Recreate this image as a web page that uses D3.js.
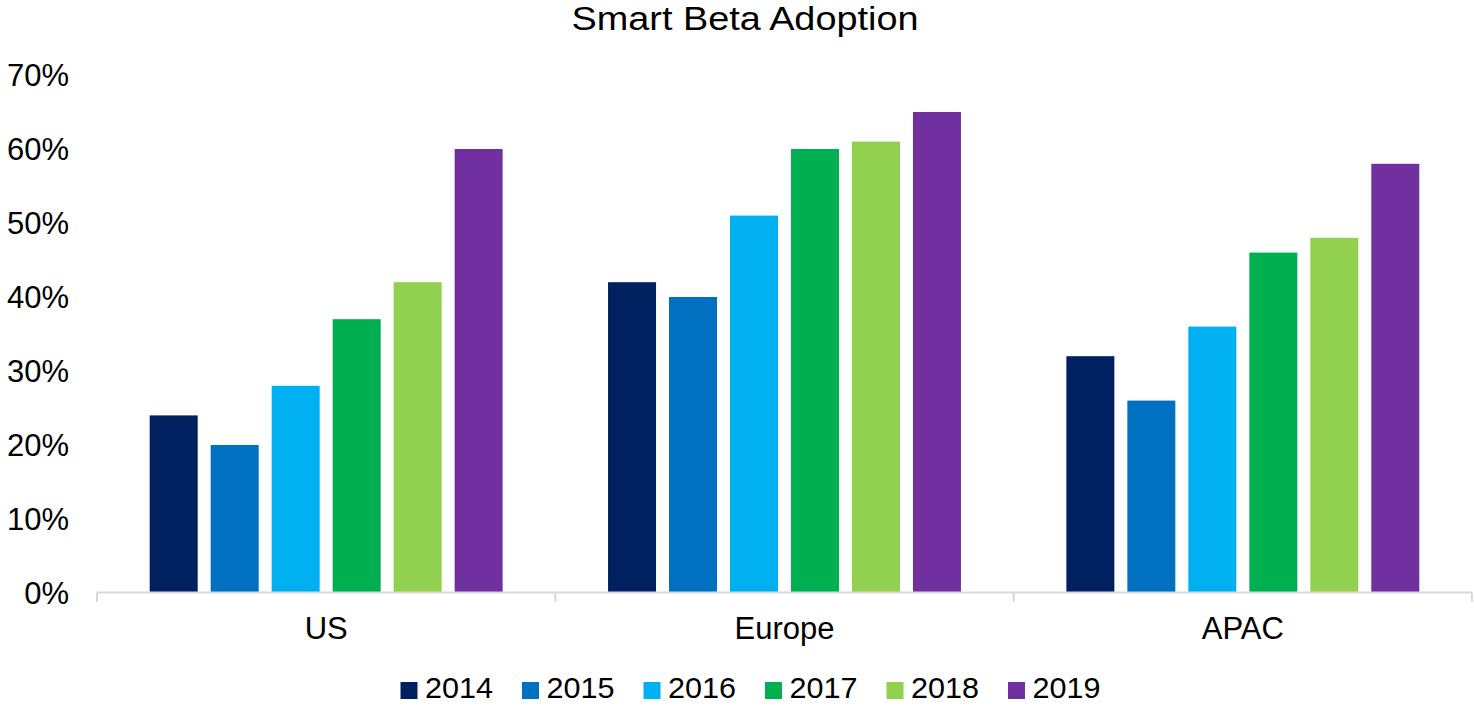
<!DOCTYPE html>
<html>
<head>
<meta charset="utf-8">
<script src="https://cdn.jsdelivr.net/npm/d3@7.9.0/dist/d3.min.js"></script>
<style>
  body { margin: 0; background: #fff; }
  text { font-family: "Liberation Sans", Arial, sans-serif; fill: #000; }
</style>
</head>
<body>
<svg id="chart" width="1474" height="706"></svg>
<script>
const regions = ["US", "Europe", "APAC"];
const years = ["2014", "2015", "2016", "2017", "2018", "2019"];
const colors = ["#002060", "#0070C0", "#00B0F0", "#00B050", "#92D050", "#7030A0"];
const values2014 = [24, 42, 32];
const values2015 = [20, 40, 26];
const values2016 = [28, 51, 36];
const values2017 = [37, 60, 46];
const values2018 = [42, 61, 48];
const values2019 = [60, 65, 58];
const yTicks = [0, 10, 20, 30, 40, 50, 60, 70];

const series = [values2014, values2015, values2016, values2017, values2018, values2019];

const svg = d3.select("#chart");
const plotLeft = 97, plotRight = 1472, plotTop = 75, plotBottom = 593;

const x0 = d3.scaleBand().domain(regions).range([plotLeft, plotRight]).padding(0);
const gap = 52.7;
const x1 = d3.scaleBand().domain(years)
  .range([gap, x0.bandwidth() - gap])
  .paddingInner(13 / 61).paddingOuter(0);
const y = d3.scaleLinear().domain([0, 70]).range([plotBottom, plotTop]);
const color = d3.scaleOrdinal().domain(years).range(colors);

// title
svg.append("text")
  .attr("x", 745).attr("y", 30)
  .attr("text-anchor", "middle")
  .style("font-size", "33px")
  .attr("textLength", 347)
  .attr("lengthAdjust", "spacingAndGlyphs")
  .text("Smart Beta Adoption");

// y labels
svg.append("g").selectAll("text")
  .data(yTicks).join("text")
  .attr("x", 69).attr("y", d => y(d))
  .attr("dy", "0.35em")
  .attr("text-anchor", "end")
  .style("font-size", "31px")
  .text(d => d + "%");

// bars
const groups = svg.append("g").selectAll("g")
  .data(regions).join("g")
  .attr("transform", d => `translate(${x0(d)},0)`);

groups.selectAll("rect")
  .data((r, i) => years.map((yr, j) => ({ year: yr, value: series[j][i] })))
  .join("rect")
  .attr("x", d => x1(d.year))
  .attr("width", x1.bandwidth())
  .attr("y", d => y(d.value))
  .attr("height", d => y(0) - y(d.value))
  .attr("fill", d => color(d.year));

// x axis
const xAxis = svg.append("g")
  .attr("transform", `translate(0,${plotBottom - 0.5})`)
  .call(d3.axisBottom(x0).tickSize(0).tickPadding(24));
xAxis.select(".domain").remove();
xAxis.selectAll("text").style("font-size", "31px").attr("font-family", null);

svg.append("line")
  .attr("x1", plotLeft).attr("x2", plotRight)
  .attr("y1", plotBottom - 0.5).attr("y2", plotBottom - 0.5)
  .attr("stroke", "#d9d9d9").attr("stroke-width", 2);

const bounds = regions.map(r => x0(r)).concat([plotRight]);
svg.append("g").selectAll("line")
  .data(bounds).join("line")
  .attr("x1", d => d).attr("x2", d => d)
  .attr("y1", plotBottom - 0.5).attr("y2", plotBottom + 9)
  .attr("stroke", "#d9d9d9").attr("stroke-width", 2);

// legend
const legend = svg.append("g").selectAll("g")
  .data(years).join("g")
  .attr("transform", (d, i) => `translate(${400.5 + i * 121.5},682)`);
legend.append("rect")
  .attr("x", 0).attr("y", 0)
  .attr("width", 17).attr("height", 17)
  .attr("fill", d => color(d));
legend.append("text")
  .attr("x", 24.5).attr("y", 16)
  .style("font-size", "30px")
  .attr("textLength", 68)
  .attr("lengthAdjust", "spacingAndGlyphs")
  .text(d => d);
</script>
</body>
</html>
